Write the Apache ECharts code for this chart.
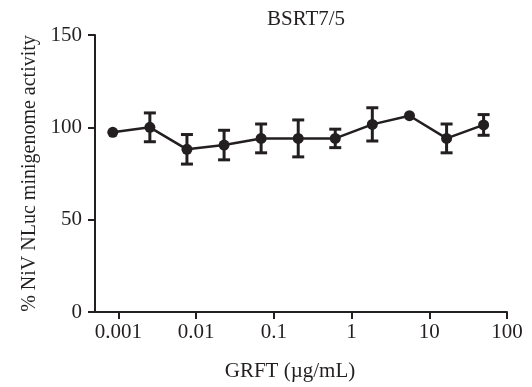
<!DOCTYPE html>
<html>
<head>
<meta charset="utf-8">
<script src="https://cdn.jsdelivr.net/npm/echarts@6/dist/echarts.min.js"></script>
<style>
  html, body { margin: 0; padding: 0; background: #fff; }
  #chart { width: 532px; height: 387px; }
</style>
</head>
<body>
<div id="chart"></div>
<script>
// GRFT concentration (µg/mL), 3-fold dilutions
const conc = [0.000847, 0.00254, 0.00762, 0.0229, 0.0686, 0.206, 0.617, 1.85, 5.56, 16.7, 50];
// % NiV NLuc minigenome activity (mean) and error
const mean = [97.3, 100, 88.1, 90.4, 94, 94, 94, 101.6, 106.3, 94, 101.3];
const err = [0, 7.8, 8, 8, 7.8, 10, 5, 9, 0, 7.8, 5.6];
// tick labels
const xTicks = [0.001, 0.01, 0.1, 1, 10, 100];
const xTickLabels = ["0.001", "0.01", "0.1", "1", "10", "100"];
const yTicks = [0, 50, 100, 150];

const INK = "#231f20";
const FONT = "Liberation Serif";

const chart = echarts.init(document.getElementById("chart"), null, { renderer: "canvas" });

// error bar rows: [x, low, high]
const errRows = conc.map((c, i) => [c, mean[i] - err[i], mean[i] + err[i]]).filter((r, i) => err[i] > 0);

chart.setOption({
  animation: false,
  title: {
    text: "BSRT7/5",
    left: 301,
    top: 4,
    textAlign: "center",
    textStyle: { fontFamily: FONT, fontSize: 21, fontWeight: "normal", color: INK },
  },
  grid: { left: 95, right: 25, top: 35, bottom: 74 },
  xAxis: {
    type: "log",
    logBase: 10,
    min: 0.0005,
    max: 100,
    name: "GRFT (µg/mL)",
    nameLocation: "middle",
    nameGap: 49,
    nameTextStyle: { fontFamily: FONT, fontSize: 21, color: INK, padding: [0, 22, 0, 0] },
    axisLine: { lineStyle: { color: INK, width: 2 } },
    axisTick: { customValues: xTicks, length: 7, lineStyle: { color: INK, width: 2 } },
    axisLabel: {
      customValues: xTicks,
      margin: 10,
      fontFamily: FONT,
      fontSize: 21,
      color: INK,
      formatter: (v) => xTickLabels[xTicks.findIndex((t) => Math.abs(Math.log10(t) - Math.log10(v)) < 1e-6)] ?? "",
    },
    splitLine: { show: false },
  },
  yAxis: {
    type: "value",
    min: 0,
    max: 150,
    interval: 50,
    name: "% NiV NLuc minigenome activity",
    nameLocation: "middle",
    nameGap: 52,
    nameTextStyle: { fontFamily: FONT, fontSize: 20, color: INK },
    axisLine: { show: true, lineStyle: { color: INK, width: 2 } },
    axisTick: { show: true, length: 7, lineStyle: { color: INK, width: 2 } },
    axisLabel: { margin: 13, fontFamily: FONT, fontSize: 21, color: INK },
    splitLine: { show: false },
  },
  series: [
    {
      type: "custom",
      name: "err",
      data: errRows,
      encode: { x: 0, y: [1, 2] },
      z: 3,
      renderItem: (params, api) => {
        const lo = api.coord([api.value(0), api.value(1)]);
        const hi = api.coord([api.value(0), api.value(2)]);
        const half = 6;
        const style = { stroke: INK, lineWidth: 3 };
        return {
          type: "group",
          children: [
            { type: "line", shape: { x1: lo[0], y1: lo[1], x2: hi[0], y2: hi[1] }, style },
            { type: "line", shape: { x1: hi[0] - half, y1: hi[1], x2: hi[0] + half, y2: hi[1] }, style },
            { type: "line", shape: { x1: lo[0] - half, y1: lo[1], x2: lo[0] + half, y2: lo[1] }, style },
          ],
        };
      },
    },
    {
      type: "line",
      name: "mean",
      data: conc.map((c, i) => [c, mean[i]]),
      symbol: "circle",
      symbolSize: 11,
      z: 4,
      lineStyle: { color: INK, width: 2.5 },
      itemStyle: { color: INK },
    },
  ],
});
</script>
</body>
</html>
